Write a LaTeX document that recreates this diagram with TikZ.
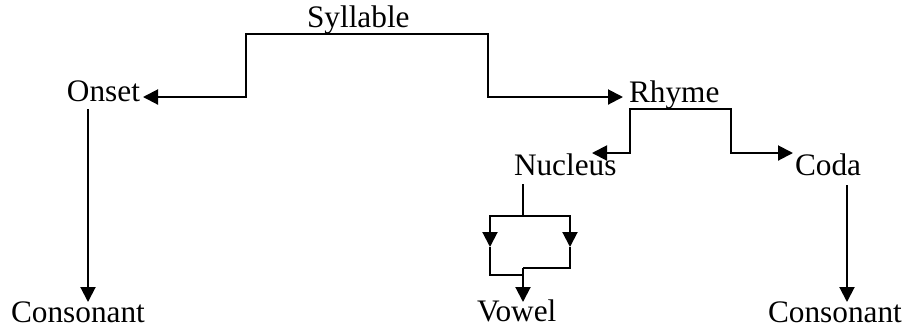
\documentclass[tikz,border=0pt]{standalone}
\usepackage{fontspec}
\setmainfont{Liberation Serif}
\usetikzlibrary{arrows.meta}
\begin{document}
\begin{tikzpicture}[x=0.5pt,y=-0.5pt,
  lbl/.style={anchor=base west,inner sep=0pt,outer sep=0pt,font=\fontsize{15.65}{18}\selectfont},
  conn/.style={line width=1pt},
  tip/.style={-{Triangle[length=7.5pt,width=7.5pt]}},
  twotip/.style={{Triangle[length=7.5pt,width=7.5pt]}-{Triangle[length=7.5pt,width=7.5pt]}}]
\useasboundingbox (0,0) rectangle (907,329);
% labels
\node[lbl] (syl) at (307,27) {Syllable};
\node[lbl] (onset) at (67,101) {Onset};
\node[lbl] (rhyme) at (629,102) {Rhyme};
\node[lbl] (nucleus) at (514,175) {Nucleus};
\node[lbl] (coda) at (795,175) {Coda};
\node[lbl] (cons1) at (11,322) {Consonant};
\node[lbl] (vowel) at (477,321) {Vowel};
\node[lbl] (cons2) at (768,322) {Consonant};
% connector points
\coordinate (onsetin) at (143,97);
\coordinate (rhymein) at (623,97);
\coordinate (sL) at (246,34);
\coordinate (sR) at (488,34);
\coordinate (nucin) at (592,153);
\coordinate (codain) at (793,153);
\coordinate (rL) at (630,109);
\coordinate (rR) at (731,109);
\coordinate (onsetout) at (88,109);
\coordinate (cons1in) at (88,302);
\coordinate (codaout) at (847,185);
\coordinate (cons2in) at (847,302);
\coordinate (nucout) at (523,184);
\coordinate (nsplit) at (523,216);
\coordinate (nL) at (490,247);
\coordinate (nR) at (570,247);
\coordinate (nLb) at (490,275);
\coordinate (nRb) at (570,268);
\coordinate (nmergeL) at (523,275);
\coordinate (nmerge) at (523,268);
\coordinate (vowelin) at (523,302);
% connectors
\draw[conn,twotip] (onsetin) -| (sL) -- (sR) |- (rhymein);
\draw[conn,twotip] (nucin) -| (rL) -- (rR) |- (codain);
\draw[conn,tip] (onsetout) -- (cons1in);
\draw[conn,tip] (codaout) -- (cons2in);
\draw[conn,tip] (nucout) -- (nsplit) -| (nL);
\draw[conn,tip] (nsplit) -| (nR);
\draw[conn] (nL) -- (nLb) -- (nmergeL);
\draw[conn] (nR) -- (nRb) -- (nmerge);
\draw[conn,tip] (nmerge) -- (vowelin);
\end{tikzpicture}
\end{document}
